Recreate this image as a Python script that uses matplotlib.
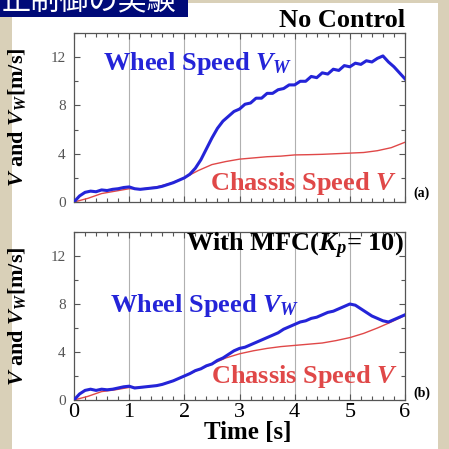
#! /usr/bin/env python3
import numpy as np
import matplotlib
matplotlib.use('Agg')
import matplotlib.pyplot as plt
from matplotlib.patches import Rectangle
from matplotlib.ticker import MultipleLocator, FixedLocator

# sampled time axes [s]
t_wheel = [round(0.1 * i, 1) for i in range(61)]
t_chassis = [0.25 * i for i in range(25)]

# (a) no control
wheel_a = [0.0, 0.5, 0.8, 0.9, 0.85, 1.0, 0.95, 1.05, 1.1, 1.2,
           1.25, 1.1, 1.05, 1.1, 1.15, 1.2, 1.3, 1.45, 1.6, 1.8,
           2.0, 2.3, 2.8, 3.5, 4.4, 5.3, 6.1, 6.7, 7.1, 7.5,
           7.7, 8.1, 8.2, 8.6, 8.6, 9.0, 9.0, 9.3, 9.4, 9.7,
           9.7, 10.0, 10.0, 10.4, 10.3, 10.7, 10.6, 11.0, 10.9, 11.3,
           11.2, 11.5, 11.4, 11.7, 11.6, 11.9, 12.1, 11.6, 11.2, 10.7,
           10.2]
chassis_a = [0.0, 0.3, 0.7, 0.9, 1.1, 1.1, 1.25, 1.55, 2.0, 2.6,
             3.1, 3.35, 3.55, 3.65, 3.75, 3.8, 3.9, 3.92, 3.95, 4.0,
             4.05, 4.1, 4.25, 4.5, 4.95]

# (b) with MFC
wheel_b = [0.0, 0.5, 0.8, 0.9, 0.8, 0.9, 0.85, 0.9, 1.0, 1.1,
           1.15, 1.0, 1.05, 1.1, 1.15, 1.2, 1.3, 1.45, 1.6, 1.8,
           2.0, 2.2, 2.45, 2.6, 2.85, 3.0, 3.3, 3.5, 3.8, 4.1,
           4.3, 4.4, 4.6, 4.8, 5.0, 5.2, 5.4, 5.6, 5.9, 6.1,
           6.3, 6.5, 6.6, 6.8, 6.9, 7.1, 7.3, 7.4, 7.6, 7.8,
           8.0, 7.9, 7.6, 7.3, 7.0, 6.8, 6.6, 6.5, 6.7, 6.9,
           7.1]
chassis_b = [0.0, 0.3, 0.7, 0.85, 1.05, 1.05, 1.2, 1.5, 2.0, 2.5,
             3.0, 3.5, 3.85, 4.1, 4.3, 4.45, 4.55, 4.65, 4.75, 4.95,
             5.2, 5.55, 6.0, 6.5, 7.05]

serif = 'Liberation Serif'
plt.rcParams['font.family'] = serif
plt.rcParams['mathtext.fontset'] = 'custom'
plt.rcParams['mathtext.rm'] = 'Liberation Serif:bold'
plt.rcParams['mathtext.it'] = 'Liberation Serif:italic:bold'
plt.rcParams['mathtext.bf'] = 'Liberation Serif:bold'

blue = '#2424d8'
red = '#e04848'
label_size = 19

fig = plt.figure(figsize=(4.49, 4.49), dpi=100)
fig.patch.set_facecolor('#d9d0b8')
fig.add_artist(Rectangle((12 / 449, 0), 426 / 449, 1 - 3 / 449,
                         transform=fig.transFigure, facecolor='white',
                         edgecolor='none', zorder=0))
fig.add_artist(Rectangle((0, 1 - 17 / 449), 188 / 449, 17 / 449,
                         transform=fig.transFigure, facecolor='#000a78',
                         edgecolor='none', zorder=1))
fig.text(0.004, 1 - 2 / 449, '止制御の実験', color='white', fontsize=21,
         family=['Noto Sans CJK JP', 'DejaVu Sans'], va='center', ha='left',
         zorder=2)

ax_a = fig.add_axes([74 / 449, 1 - 202 / 449, 331 / 449, 169 / 449])
ax_b = fig.add_axes([74 / 449, 1 - 400 / 449, 331 / 449, 168 / 449])


def setup(ax, panel, panel_y):
    ax.set_xlim(0, 6)
    ax.set_ylim(0, 14)
    ax.xaxis.set_major_locator(MultipleLocator(1))
    ax.xaxis.set_minor_locator(MultipleLocator(0.2))
    ax.yaxis.set_major_locator(FixedLocator([0, 4, 8, 12]))
    ax.yaxis.set_minor_locator(FixedLocator([2, 6, 10, 14]))
    ax.tick_params(which='both', direction='in', top=True, right=True,
                   color='#555555', width=0.8)
    ax.tick_params(which='major', length=4)
    ax.tick_params(which='minor', length=3)
    ax.tick_params(axis='y', labelsize=11, labelcolor='#555555', pad=6)
    for s in ax.spines.values():
        s.set_color('#555555')
        s.set_linewidth(0.9)
    for x in range(1, 6):
        ax.axvline(x, color='#b0b0b0', lw=0.8, zorder=0)
    ax.set_ylabel('$V$ and $V_W$[m/s]', fontsize=16, fontweight='bold')
    ax.yaxis.set_label_coords(-0.139, 0.5)
    ax.text(1.025, panel_y, panel, transform=ax.transAxes, fontsize=10,
            fontweight='bold', ha='left', va='center')


setup(ax_a, '(a)', 0.053)
setup(ax_b, '(b)', 0.04)

ax_a.plot(t_chassis, chassis_a, color=red, lw=1.0, zorder=2)
ax_a.plot(t_wheel, wheel_a, color=blue, lw=2.2, zorder=3)
ax_b.plot(t_chassis, chassis_b, color=red, lw=1.0, zorder=2)
ax_b.plot(t_wheel, wheel_b, color=blue, lw=2.2, zorder=3)

ax_a.tick_params(axis='x', labelbottom=False)
ax_b.tick_params(axis='x', labelsize=16, pad=2)
ax_b.set_xlabel('Time [s]', fontsize=18, fontweight='bold')
ax_b.xaxis.set_label_coords(0.525, -0.125)

ax_a.text(1.0, 1 + 6 / 169, 'No Control', transform=ax_a.transAxes,
          fontsize=label_size, fontweight='bold', ha='right', va='baseline')
ax_b.text(0.995, 0.917, 'With MFC($K_p$= 10)', transform=ax_b.transAxes,
          fontsize=label_size, fontweight='bold', ha='right', va='center')

ax_a.text(0.088, 0.817, 'Wheel Speed $V_W$', transform=ax_a.transAxes,
          fontsize=label_size, fontweight='bold', color=blue, ha='left',
          va='center')
ax_a.text(0.976, 0.107, 'Chassis Speed $V$', transform=ax_a.transAxes,
          fontsize=label_size, fontweight='bold', color=red, ha='right',
          va='center')
ax_b.text(0.109, 0.56, 'Wheel Speed $V_W$', transform=ax_b.transAxes,
          fontsize=label_size, fontweight='bold', color=blue, ha='left',
          va='center')
ax_b.text(0.979, 0.137, 'Chassis Speed $V$', transform=ax_b.transAxes,
          fontsize=label_size, fontweight='bold', color=red, ha='right',
          va='center')

plt.savefig('out.png', dpi=100, facecolor=fig.get_facecolor())
